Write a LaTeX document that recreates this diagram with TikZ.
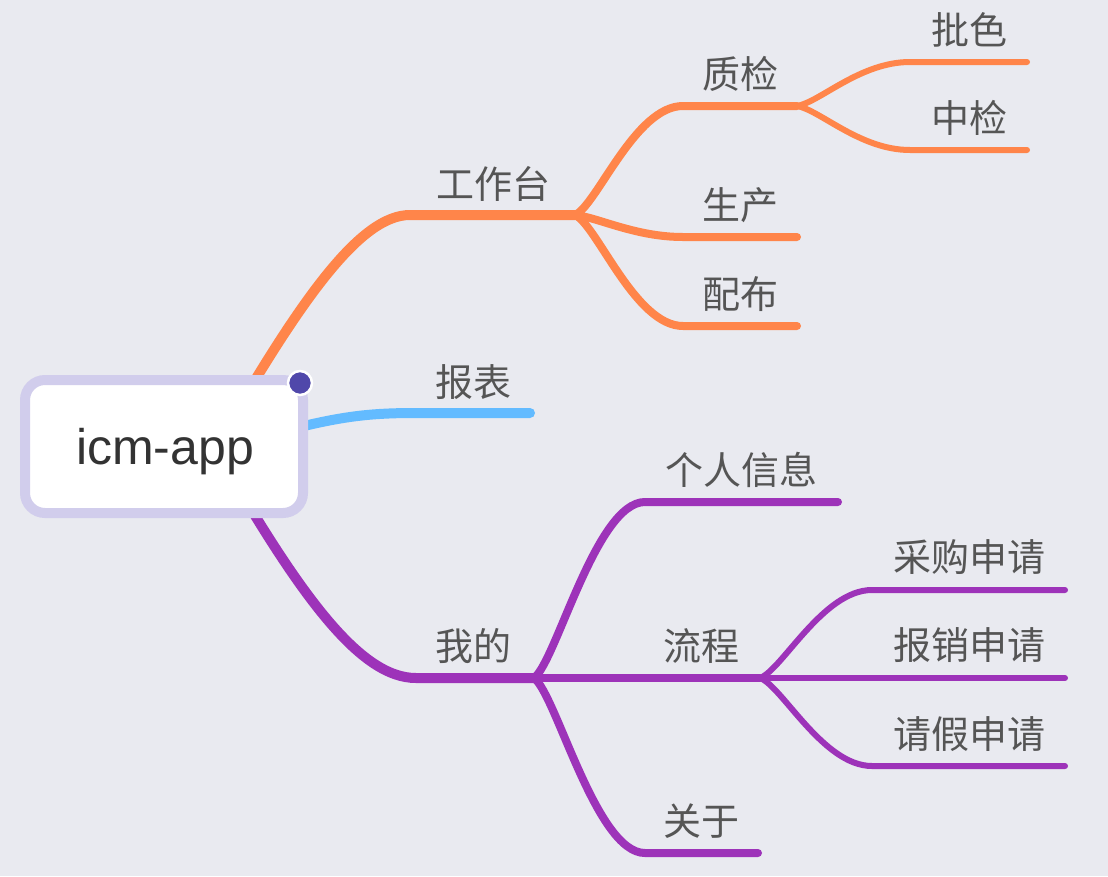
\documentclass[tikz,border=0pt]{standalone}
\usepackage{fontspec}
\newfontfamily\cjk{Noto Sans CJK SC}
\newfontfamily\latinsans{Liberation Sans}
\definecolor{bg}{RGB}{233,234,240}
\definecolor{orangeC}{RGB}{255,133,74}
\definecolor{blueC}{RGB}{99,187,255}
\definecolor{purpleC}{RGB}{157,51,185}
\definecolor{rootB}{RGB}{209,205,236}
\definecolor{dotC}{RGB}{80,72,170}
\definecolor{txtC}{RGB}{85,85,85}
\definecolor{rootTxt}{RGB}{51,51,51}
\begin{document}
\begin{tikzpicture}[x=1pt,y=-1pt,
  lbl/.style={font=\cjk\fontsize{38}{40}\selectfont, text=txtC, inner sep=0pt},
  brA/.style={line width=10pt, line cap=round},
  brB/.style={line width=8pt, line cap=round},
  brC/.style={line width=6pt, line cap=round},
  rootbox/.style={draw=rootB, fill=white, line width=10pt, rounded corners=20pt,
    minimum width=278pt, minimum height=133pt, inner sep=0pt},
  roottext/.style={font=\latinsans\fontsize{50}{52}\selectfont, text=rootTxt, inner sep=0pt}
]
\useasboundingbox[fill=bg] (0,0) rectangle (1108,876);

% ---- coordinates of topic lines
\coordinate (oUp) at (215,448);
\coordinate (oMid) at (250,440);
\coordinate (oDown) at (215,448);
\coordinate (gztS) at (410,215);  \coordinate (gztE) at (575,215);
\coordinate (bbS) at (415,413);   \coordinate (bbE) at (530,413);
\coordinate (wdS) at (416,678);   \coordinate (wdE) at (534,678);
\coordinate (zjS) at (683,106);   \coordinate (zjE) at (797,106);
\coordinate (scS) at (683,237);   \coordinate (scE) at (797,237);
\coordinate (pbS) at (683,326);   \coordinate (pbE) at (797,326);
\coordinate (psS) at (910,62);    \coordinate (psE) at (1027,62);
\coordinate (zhS) at (910,150);   \coordinate (zhE) at (1027,150);
\coordinate (grS) at (645,502);   \coordinate (grE) at (838,502);
\coordinate (lcE) at (760,678);
\coordinate (gyS) at (645,853);   \coordinate (gyE) at (758,853);
\coordinate (cgS) at (872,590);   \coordinate (cgE) at (1065,590);
\coordinate (bxE) at (1065,678);
\coordinate (qjS) at (872,766);   \coordinate (qjE) at (1065,766);

% ---- orange branch
\draw[orangeC, brA] (oUp) .. controls (300,300) and (360,215) .. (gztS) -- (gztE);
\draw[orangeC, brB] (gztE) .. controls +(22,-10) and +(-48,0) .. (zjS) -- (zjE);
\draw[orangeC, brB] (gztE) .. controls +(22,2) and +(-48,0) .. (scS) -- (scE);
\draw[orangeC, brB] (gztE) .. controls +(22,10) and +(-48,0) .. (pbS) -- (pbE);
\draw[orangeC, brC] (zjE) .. controls +(23,-4) and +(-50,0) .. (psS) -- (psE);
\draw[orangeC, brC] (zjE) .. controls +(23,4) and +(-50,0) .. (zhS) -- (zhE);

% ---- blue branch
\draw[blueC, brA] (oMid) .. controls (330,418) and (360,413) .. (bbS) -- (bbE);

% ---- purple branch
\draw[purpleC, brA] (oDown) .. controls (300,596) and (360,678) .. (wdS) -- (wdE);
\draw[purpleC, brB] (wdE) .. controls +(22,-16) and +(-49,0) .. (grS) -- (grE);
\draw[purpleC, brB] (wdE) -- (lcE);
\draw[purpleC, brB] (wdE) .. controls +(22,16) and +(-49,0) .. (gyS) -- (gyE);
\draw[purpleC, brC] (lcE) .. controls +(22,-8) and +(-49,0) .. (cgS) -- (cgE);
\draw[purpleC, brC] (lcE) -- (bxE);
\draw[purpleC, brC] (lcE) .. controls +(22,8) and +(-49,0) .. (qjS) -- (qjE);

% ---- labels
\node[lbl] (gzt) at (493,184) {工作台};
\node[lbl] (zj)  at (740,74)  {质检};
\node[lbl] (sc)  at (740,205) {生产};
\node[lbl] (pb)  at (740,294) {配布};
\node[lbl] (ps)  at (969,30)  {批色};
\node[lbl] (zh)  at (969,118) {中检};
\node[lbl] (bb)  at (473,382) {报表};
\node[lbl] (wd)  at (473,646) {我的};
\node[lbl] (gr)  at (741,470) {个人信息};
\node[lbl] (lc)  at (701,646) {流程};
\node[lbl] (gy)  at (701,821) {关于};
\node[lbl] (cg)  at (969,557) {采购申请};
\node[lbl] (bx)  at (969,645) {报销申请};
\node[lbl] (qj)  at (969,734) {请假申请};

% ---- root
\node[rootbox] (root) at (164,446.5) {};
\node[roottext, anchor=base] (roottxt) at (165,464) {icm-app};
\node[circle, fill=dotC, draw=white, line width=2.5pt, minimum size=24pt, inner sep=0pt] (dot) at (300,383) {};
\end{tikzpicture}
\end{document}
